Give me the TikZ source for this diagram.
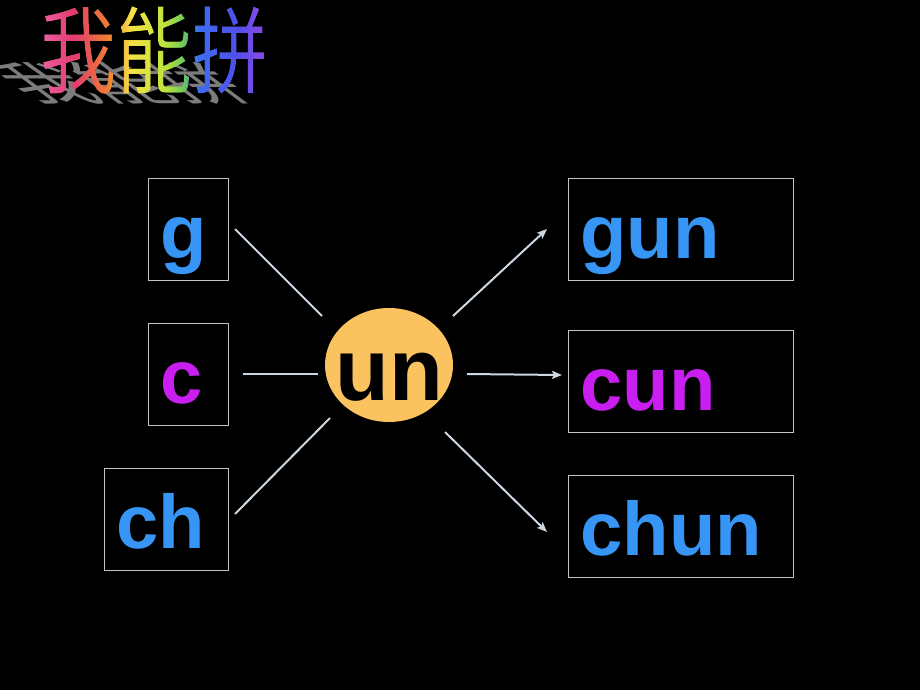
\documentclass[tikz,border=0pt]{standalone}
\usepackage{fontspec}
\setmainfont{Liberation Sans}
\newfontfamily\cjk{Noto Sans CJK SC}
\usetikzlibrary{shapes.geometric,arrows.meta,fadings}
\definecolor{pyblue}{RGB}{55,150,245}
\definecolor{pymag}{RGB}{200,30,240}
\definecolor{linegray}{RGB}{205,215,225}
\definecolor{boxgray}{RGB}{195,195,195}
\definecolor{unfill}{RGB}{250,195,95}
\definecolor{rbA}{RGB}{240,100,170}
\definecolor{rbB}{RGB}{225,60,110}
\definecolor{rbC}{RGB}{240,125,50}
\definecolor{rbD}{RGB}{245,225,70}
\definecolor{rbE}{RGB}{190,228,60}
\definecolor{rbF}{RGB}{110,200,90}
\definecolor{rbG}{RGB}{60,110,240}
\definecolor{rbH}{RGB}{80,80,235}
\definecolor{rbI}{RGB}{160,70,225}
\pgfdeclarehorizontalshading{rainbow}{100bp}{color(0bp)=(rbA); color(25bp)=(rbA); color(33bp)=(rbB); color(40bp)=(rbC); color(45bp)=(rbD); color(52bp)=(rbE); color(56bp)=(rbF); color(59bp)=(rbG); color(67bp)=(rbH); color(75bp)=(rbI); color(100bp)=(rbI)}
\begin{tikzfadingfrompicture}[name=titlefade]
  \node[text=transparent!0, font=\cjk\fontsize{76}{76}\selectfont, inner sep=0pt] (fadetext) {我能拼};
\end{tikzfadingfrompicture}
\tikzset{
  lbox/.style={draw=boxgray, line width=1pt, anchor=north west, inner xsep=12pt, inner ysep=0pt,
    text height=80pt, text depth=22pt, align=left, font=\bfseries\fontsize{76}{80}\selectfont},
  conn/.style={draw=linegray, line width=2pt},
  arr/.style={conn, -{Stealth[length=10pt, width=8pt, inset=2pt]}},
}
\begin{document}
\begin{tikzpicture}[x=1pt, y=-1pt]
  \fill[black] (0,0) rectangle (920,690);
  \useasboundingbox (0,0) rectangle (920,690);
  % title shadow
  \node[text=gray!70, opacity=0.75, font=\cjk\fontsize{76}{80}\selectfont, inner sep=0pt,
        anchor=south, yscale=0.6, xslant=-0.8, transform shape] (shadow) at (150,104) {我能拼};
  % title with rainbow
  \shade[shading=rainbow, path fading=titlefade, fit fading=false,
         fading transform={shift={(155,50)}, yscale=1.25}] (36,0) rectangle (274,100);
  % left boxes
  \node[lbox, text width=56pt, text=pyblue] (g) at (148,178) {g};
  \node[lbox, text width=56pt, text=pymag] (c) at (148,323) {c};
  \node[lbox, text width=100pt, text=pyblue] (ch) at (104,468) {ch};
  % right boxes
  \node[lbox, text width=201pt, text=pyblue] (gun) at (568,178) {gun};
  \node[lbox, text width=201pt, text=pymag] (cun) at (568,330) {cun};
  \node[lbox, text width=201pt, text=pyblue] (chun) at (568,475) {chun};
  % center ellipse
  \node[ellipse, fill=unfill, minimum width=128pt, minimum height=114pt, inner sep=0pt] (un) at (389,365) {};
  \node[font=\bfseries\fontsize{88}{90}\selectfont, text=black, anchor=base, inner sep=0pt] (untext) at (389,400) {un};
  % connector end points
  \coordinate (g-o) at (235,229);
  \coordinate (un-nw) at (322,316);
  \coordinate (c-o) at (243,374);
  \coordinate (un-w) at (318,374);
  \coordinate (ch-o) at (235,514);
  \coordinate (un-sw) at (330,418);
  \coordinate (un-ne) at (453,316);
  \coordinate (gun-i) at (547,229);
  \coordinate (un-e) at (467,374);
  \coordinate (cun-i) at (562,375);
  \coordinate (un-se) at (445,432);
  \coordinate (chun-i) at (547,532);
  \draw[conn] (g-o) -- (un-nw);
  \draw[conn] (c-o) -- (un-w);
  \draw[conn] (ch-o) -- (un-sw);
  \draw[arr] (un-ne) -- (gun-i);
  \draw[arr] (un-e) -- (cun-i);
  \draw[arr] (un-se) -- (chun-i);
\end{tikzpicture}
\end{document}
